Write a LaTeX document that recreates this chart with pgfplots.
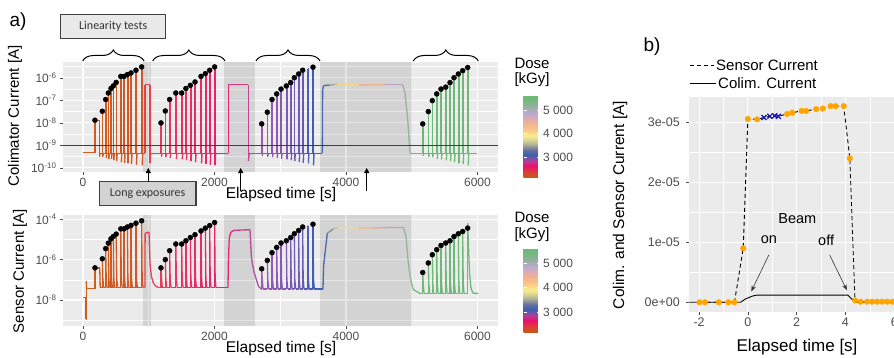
\documentclass[border=0pt]{standalone}
\usepackage{pgfplots}
\pgfplotsset{compat=1.18}
\usepackage{fontspec}
\setmainfont{Liberation Sans}
\newfontfamily\carlito{Carlito}
\usetikzlibrary{arrows.meta,decorations.pathreplacing}
\definecolor{panelbg}{HTML}{EBEBEB}
\definecolor{tickgray}{HTML}{4D4D4D}
\definecolor{boxA}{HTML}{E9E9E9}
\definecolor{boxB}{HTML}{D3D3D3}
\definecolor{dorange}{HTML}{FFA500}
\definecolor{dblue}{HTML}{1010C0}
\newcommand\fs[1]{\fontsize{#1}{#1}\selectfont}
\pgfplotsset{
 colormap={timemap}{rgb255(0pt)=(205,95,25); rgb255(90pt)=(212,85,40); rgb255(96pt)=(225,65,75); rgb255(110pt)=(232,62,90); rgb255(200pt)=(232,35,105); rgb255(225pt)=(230,40,115); rgb255(255pt)=(185,75,155); rgb255(275pt)=(155,90,175); rgb255(330pt)=(110,90,180); rgb255(350pt)=(60,95,180); rgb255(370pt)=(70,105,175); rgb255(385pt)=(200,200,140); rgb255(395pt)=(245,230,125); rgb255(425pt)=(248,190,130); rgb255(455pt)=(228,160,150); rgb255(475pt)=(185,160,205); rgb255(495pt)=(150,180,150); rgb255(510pt)=(110,185,120); rgb255(610pt)=(110,185,120)},
 colormap={dosemap}{rgb255(0pt)=(200,85,25); rgb255(13pt)=(212,75,40); rgb255(28pt)=(228,50,70); rgb255(48pt)=(232,15,110); rgb255(63pt)=(200,50,140); rgb255(78pt)=(130,80,165); rgb255(93pt)=(55,95,175); rgb255(113pt)=(100,110,160); rgb255(143pt)=(190,190,150); rgb255(173pt)=(248,238,140); rgb255(203pt)=(250,195,135); rgb255(233pt)=(240,175,150); rgb255(268pt)=(190,170,210); rgb255(298pt)=(150,175,160); rgb255(323pt)=(115,185,125); rgb255(347pt)=(110,185,120)},
 gg/.style={scale only axis, anchor=south west,
  axis background/.style={fill=panelbg},
  grid=both, major grid style={white, line width=1.1pt}, minor grid style={white, line width=0.5pt},
  axis x line*=bottom, axis y line*=left, axis line style={draw=none},
  tick align=outside, major tick length=3pt, minor tick length=0pt,
  tick style={tickgray, line width=0.6pt},
  tick label style={font=\fs{12}, text=tickgray}},
 cbar/.style={hide axis, scale only axis, anchor=south west, width=16pt, xmin=0, xmax=1, ymin=0, ymax=1,
  colormap name=dosemap, point meta min=2170, point meta max=5640, colorbar,
  colorbar style={at={(parent axis.south west)}, anchor=south west, scale only axis, width=16pt, height=#1,
   ytick={3000,4000,5000}, yticklabels={3 000,4 000,5 000}, yticklabel pos=right,
   yticklabel style={font=\fs{12}, text=tickgray},
   axis line style={draw=none}, major tick length=3pt, tick align=inside, ytick pos=both,
   tick style={white, line width=0.6pt}}},
}
\begin{document}
\begin{tikzpicture}[x=1pt,y=1pt]
\useasboundingbox (0,0) rectangle (894,357);

% ---------------- top panel (collimator current)
\begin{axis}[gg, at={(63pt,185pt)}, width=435pt, height=110pt,
 xmin=-304, xmax=6312, ymode=log, ymin=6.6e-11, ymax=5.1e-6,
 xtick={0,2000,4000,6000}, xticklabels={0,2000,4000,6000}, minor xtick={1000,3000,5000},
 ytick={1e-10,1e-9,1e-8,1e-7,1e-6},
 yticklabels={10\textsuperscript{-10},10\textsuperscript{-9},10\textsuperscript{-8},10\textsuperscript{-7},10\textsuperscript{-6}},
 minor ytick={3.16e-10,3.16e-9,3.16e-8,3.16e-7,3.16e-6},
 colormap name=timemap, point meta min=0, point meta max=6100]
\addplot[draw=none, fill=black, fill opacity=0.1, forget plot] coordinates {(917,6.6e-11) (917,5.1e-6) (1029,5.1e-6) (1029,6.6e-11)};
\addplot[draw=none, fill=black, fill opacity=0.1, forget plot] coordinates {(2149,6.6e-11) (2149,5.1e-6) (2621,5.1e-6) (2621,6.6e-11)};
\addplot[draw=none, fill=black, fill opacity=0.1, forget plot] coordinates {(3605,6.6e-11) (3605,5.1e-6) (5000,5.1e-6) (5000,6.6e-11)};
\addplot[mesh, point meta=x, line width=1.3pt] coordinates {
(0,4.7e-10) (182,4.7e-10) (182,1.32e-8) (250,1.32e-8) (250,3.2e-10) (262,4.5e-10)
(294,4.5e-10) (294,3.3e-8) (302,3.3e-8) (302,3.2e-10) (310,4.5e-10)
(345,4.5e-10) (345,1.1e-7) (353,1.1e-7) (353,2.8e-10) (361,4.5e-10)
(385,4.5e-10) (385,2.14e-7) (393,2.14e-7) (393,2.5e-10) (401,4.5e-10)
(426,4.5e-10) (426,3.4e-7) (434,3.4e-7) (434,2.5e-10) (442,4.5e-10)
(461,4.5e-10) (461,4.4e-7) (469,4.4e-7) (469,2.2e-10) (477,4.5e-10)
(505,4.5e-10) (505,6.3e-7) (513,6.3e-7) (513,2.0e-10) (521,4.5e-10)
(575,4.5e-10) (575,1.17e-6) (583,1.17e-6) (583,1.8e-10) (591,4.5e-10)
(625,4.5e-10) (625,1.17e-6) (633,1.17e-6) (633,1.7e-10) (641,4.5e-10)
(675,4.5e-10) (675,1.41e-6) (683,1.41e-6) (683,1.6e-10) (691,4.5e-10)
(730,4.5e-10) (730,1.66e-6) (738,1.66e-6) (738,1.5e-10) (746,4.5e-10)
(806,4.5e-10) (806,2.19e-6) (814,2.19e-6) (814,1.4e-10) (822,4.5e-10)
(892,4.5e-10) (892,3.09e-6) (900,3.09e-6) (900,1.3e-10) (908,4.5e-10)
(943,4.5e-10) (943,5e-7) (1019,5e-7) (1019,1.6e-10) (1030,4.5e-10)
(1186,4.5e-10) (1186,1.0e-8) (1194,1.0e-8) (1194,3.2e-10) (1202,4.5e-10)
(1252,4.5e-10) (1252,3.4e-8) (1260,3.4e-8) (1260,3.0e-10) (1268,4.5e-10)
(1318,4.5e-10) (1318,1.1e-7) (1326,1.1e-7) (1326,2.8e-10) (1334,4.5e-10)
(1412,4.5e-10) (1412,2.14e-7) (1420,2.14e-7) (1420,2.5e-10) (1428,4.5e-10)
(1501,4.5e-10) (1501,2.14e-7) (1509,2.14e-7) (1509,2.4e-10) (1517,4.5e-10)
(1565,4.5e-10) (1565,3.4e-7) (1573,3.4e-7) (1573,2.2e-10) (1581,4.5e-10)
(1633,4.5e-10) (1633,4.7e-7) (1641,4.7e-7) (1641,2.0e-10) (1649,4.5e-10)
(1704,4.5e-10) (1704,6.6e-7) (1712,6.6e-7) (1712,1.8e-10) (1720,4.5e-10)
(1795,4.5e-10) (1795,1.17e-6) (1803,1.17e-6) (1803,1.6e-10) (1811,4.5e-10)
(1861,4.5e-10) (1861,1.55e-6) (1869,1.55e-6) (1869,1.5e-10) (1877,4.5e-10)
(1927,4.5e-10) (1927,2.19e-6) (1935,2.19e-6) (1935,1.4e-10) (1943,4.5e-10)
(2002,4.5e-10) (2002,3.09e-6) (2010,3.09e-6) (2010,1.3e-10) (2018,4.5e-10)
(2210,4.5e-10) (2210,5e-7) (2515,5e-7) (2515,2e-10) (2530,4.5e-10)
(2718,4.5e-10) (2718,9.1e-9) (2726,9.1e-9) (2726,3.5e-10) (2734,4.5e-10)
(2803,4.5e-10) (2803,3.0e-8) (2811,3.0e-8) (2811,3.2e-10) (2819,4.5e-10)
(2875,4.5e-10) (2875,1.1e-7) (2883,1.1e-7) (2883,3.0e-10) (2891,4.5e-10)
(2946,4.5e-10) (2946,1.95e-7) (2954,1.95e-7) (2954,2.8e-10) (2962,4.5e-10)
(3012,4.5e-10) (3012,3.2e-7) (3020,3.2e-7) (3020,2.6e-10) (3028,4.5e-10)
(3093,4.5e-10) (3093,4.4e-7) (3101,4.4e-7) (3101,2.4e-10) (3109,4.5e-10)
(3159,4.5e-10) (3159,6.2e-7) (3167,6.2e-7) (3167,2.2e-10) (3175,4.5e-10)
(3214,4.5e-10) (3214,1.02e-6) (3222,1.02e-6) (3222,2.0e-10) (3230,4.5e-10)
(3280,4.5e-10) (3280,1.5e-6) (3288,1.5e-6) (3288,1.8e-10) (3296,4.5e-10)
(3341,4.5e-10) (3341,2.2e-6) (3349,2.2e-6) (3349,1.7e-10) (3357,4.5e-10)
(3420,4.5e-10) (3420,2.6e-6) (3428,2.6e-6) (3428,1.6e-10) (3436,4.5e-10)
(3498,4.5e-10) (3498,3.0e-6) (3506,3.0e-6) (3506,1.3e-10) (3514,4.5e-10)
(3640,4.5e-10) (3645,3e-7) (3660,4.6e-7) (3750,4.8e-7) (3830,5.1e-7) (3880,5.4e-7) (3940,5.1e-7) (4200,4.9e-7) (4600,5.0e-7) (4860,5.0e-7) (4898,2.1e-7) (4939,1.35e-8) (4974,4.5e-10)
(5167,4.5e-10) (5167,9.1e-9) (5175,9.1e-9) (5175,3.5e-10) (5183,4.5e-10)
(5252,4.5e-10) (5252,3.2e-8) (5260,3.2e-8) (5260,3.2e-10) (5268,4.5e-10)
(5313,4.5e-10) (5313,9.8e-8) (5321,9.8e-8) (5321,3.0e-10) (5329,4.5e-10)
(5380,4.5e-10) (5380,1.95e-7) (5388,1.95e-7) (5388,2.6e-10) (5396,4.5e-10)
(5445,4.5e-10) (5445,3.2e-7) (5453,3.2e-7) (5453,2.4e-10) (5461,4.5e-10)
(5517,4.5e-10) (5517,3.9e-7) (5525,3.9e-7) (5525,2.2e-10) (5533,4.5e-10)
(5582,4.5e-10) (5582,6.2e-7) (5590,6.2e-7) (5590,2.0e-10) (5598,4.5e-10)
(5643,4.5e-10) (5643,1.02e-6) (5651,1.02e-6) (5651,1.8e-10) (5659,4.5e-10)
(5709,4.5e-10) (5709,1.5e-6) (5717,1.5e-6) (5717,1.6e-10) (5725,4.5e-10)
(5775,4.5e-10) (5775,2.1e-6) (5783,2.1e-6) (5783,1.5e-10) (5791,4.5e-10)
(5851,4.5e-10) (5851,2.9e-6) (5859,2.9e-6) (5859,1.3e-10) (5867,4.5e-10)
(5993,4.5e-10)};
\addplot[color=black!75, line width=1pt] coordinates {(-304,1e-9) (6312,1e-9)};
\addplot[only marks, mark=*, mark size=2.5pt, black] coordinates {
(182,1.32e-8) (294,3.3e-8) (345,1.1e-7) (385,2.14e-7) (426,3.4e-7) (461,4.4e-7) (505,6.3e-7) (575,1.17e-6) (625,1.17e-6) (675,1.41e-6) (730,1.66e-6) (806,2.19e-6) (892,3.09e-6)
(1186,1.0e-8) (1252,3.4e-8) (1318,1.1e-7) (1412,2.14e-7) (1501,2.14e-7) (1565,3.4e-7) (1633,4.7e-7) (1704,6.6e-7) (1795,1.17e-6) (1861,1.55e-6) (1927,2.19e-6) (2002,3.09e-6)
(2718,9.1e-9) (2803,3.0e-8) (2875,1.1e-7) (2946,1.95e-7) (3012,3.2e-7) (3093,4.4e-7) (3159,6.2e-7) (3214,1.02e-6) (3280,1.5e-6) (3341,2.2e-6) (3498,3.0e-6)
(5167,9.1e-9) (5252,3.2e-8) (5313,9.8e-8) (5380,1.95e-7) (5445,3.2e-7) (5517,3.9e-7) (5582,6.2e-7) (5643,1.02e-6) (5709,1.5e-6) (5775,2.1e-6) (5851,2.9e-6)};
\end{axis}

% ---------------- bottom panel (sensor current)
\begin{axis}[gg, at={(63pt,31pt)}, width=435pt, height=111pt,
 xmin=-304, xmax=6312, ymode=log, ymin=5.2e-10, ymax=1.6e-4,
 xtick={0,2000,4000,6000}, xticklabels={0,2000,4000,6000}, minor xtick={1000,3000,5000},
 ytick={1e-8,1e-6,1e-4},
 yticklabels={10\textsuperscript{-8},10\textsuperscript{-6},10\textsuperscript{-4}},
 minor ytick={1e-9,1e-7,1e-5},
 colormap name=timemap, point meta min=0, point meta max=6100]
\addplot[draw=none, fill=black, fill opacity=0.1, forget plot] coordinates {(917,5.2e-10) (917,1.6e-4) (1029,1.6e-4) (1029,5.2e-10)};
\addplot[draw=none, fill=black, fill opacity=0.1, forget plot] coordinates {(2149,5.2e-10) (2149,1.6e-4) (2621,1.6e-4) (2621,5.2e-10)};
\addplot[draw=none, fill=black, fill opacity=0.1, forget plot] coordinates {(3605,5.2e-10) (3605,1.6e-4) (5000,1.6e-4) (5000,5.2e-10)};
\addplot[mesh, point meta=x, line width=1.3pt] coordinates {
(0,1.3e-8) (45,1.3e-8) (45,1.1e-9) (50,1.1e-9) (50,8.5e-8) (56,3.7e-8) (182,3.7e-8) (182,3.9e-7) (255,3.9e-7) (262,4.1e-8)
(294,4.1e-8) (294,1.1e-6) (302,1.2e-7) (314,4.1e-8)
(345,4.1e-8) (345,3.47e-6) (353,1.2e-7) (365,4.1e-8)
(385,4.1e-8) (385,6.5e-6) (393,1.2e-7) (405,4.1e-8)
(426,4.1e-8) (426,1.07e-5) (434,1.2e-7) (446,4.1e-8)
(461,4.1e-8) (461,1.38e-5) (469,1.2e-7) (481,4.1e-8)
(505,4.1e-8) (505,1.82e-5) (513,1.2e-7) (525,4.1e-8)
(575,4.1e-8) (575,3.3e-5) (583,1.2e-7) (595,4.1e-8)
(625,4.1e-8) (625,3.3e-5) (633,1.2e-7) (645,4.1e-8)
(675,4.1e-8) (675,4.1e-5) (683,1.2e-7) (695,4.1e-8)
(730,4.1e-8) (730,4.9e-5) (738,1.2e-7) (750,4.1e-8)
(806,4.1e-8) (806,6.3e-5) (814,1.2e-7) (826,4.1e-8)
(892,4.1e-8) (892,8.3e-5) (900,1.2e-7) (912,4.1e-8)
(943,4.1e-8) (945,2.0e-5) (1004,2.3e-5) (1010,5e-6) (1020,6e-7) (1040,1.5e-7) (1070,7e-8) (1100,5e-8) (1150,4.1e-8)
(1186,4.1e-8) (1186,3.9e-7) (1194,1.2e-7) (1206,4.1e-8)
(1252,4.1e-8) (1252,1.0e-6) (1260,1.2e-7) (1272,4.1e-8)
(1318,4.1e-8) (1318,2.75e-6) (1326,1.2e-7) (1338,4.1e-8)
(1412,4.1e-8) (1412,5.9e-6) (1420,1.2e-7) (1432,4.1e-8)
(1501,4.1e-8) (1501,5.9e-6) (1509,1.2e-7) (1521,4.1e-8)
(1565,4.1e-8) (1565,8.5e-6) (1573,1.2e-7) (1585,4.1e-8)
(1633,4.1e-8) (1633,1.23e-5) (1641,1.2e-7) (1653,4.1e-8)
(1704,4.1e-8) (1704,1.7e-5) (1712,1.2e-7) (1724,4.1e-8)
(1795,4.1e-8) (1795,2.6e-5) (1803,1.2e-7) (1815,4.1e-8)
(1861,4.1e-8) (1861,3.6e-5) (1869,1.2e-7) (1881,4.1e-8)
(1927,4.1e-8) (1927,4.8e-5) (1935,1.2e-7) (1947,4.1e-8)
(2002,4.1e-8) (2002,6.8e-5) (2010,1.2e-7) (2022,4.1e-8)
(2205,4.1e-8) (2212,1e-6) (2225,1.2e-5) (2250,2.3e-5) (2300,2.8e-5) (2540,3.0e-5) (2555,3e-6) (2565,1e-6) (2600,2.5e-7) (2667,5e-8) (2710,3.5e-8)
(2718,3.5e-8) (2718,3.5e-7) (2726,1.05e-7) (2738,3.5e-8)
(2803,3.5e-8) (2803,9.1e-7) (2811,1.05e-7) (2823,3.5e-8)
(2875,3.5e-8) (2875,2.2e-6) (2883,1.05e-7) (2895,3.5e-8)
(2946,3.5e-8) (2946,4.0e-6) (2954,1.05e-7) (2966,3.5e-8)
(3012,3.5e-8) (3012,6.6e-6) (3020,1.05e-7) (3032,3.5e-8)
(3093,3.5e-8) (3093,8.5e-6) (3101,1.05e-7) (3113,3.5e-8)
(3159,3.5e-8) (3159,1.23e-5) (3167,1.05e-7) (3179,3.5e-8)
(3214,3.5e-8) (3214,1.9e-5) (3222,1.05e-7) (3234,3.5e-8)
(3280,3.5e-8) (3280,2.75e-5) (3288,1.05e-7) (3300,3.5e-8)
(3341,3.5e-8) (3341,4.1e-5) (3349,1.05e-7) (3361,3.5e-8)
(3420,3.5e-8) (3420,4.8e-5) (3428,1.05e-7) (3440,3.5e-8)
(3498,3.5e-8) (3498,5.6e-5) (3506,1.05e-7) (3518,3.5e-8)
(3650,3.5e-8) (3660,5e-7) (3681,2.1e-6) (3716,2.0e-5) (3808,3.3e-5) (3884,3.9e-5) (4200,3.7e-5) (4400,3.6e-5) (4600,3.8e-5) (4872,3.9e-5) (4913,1.38e-5) (4948,6.8e-7) (4984,1.0e-7) (5024,3.3e-8) (5126,2.1e-8)
(5167,2.1e-8) (5167,2.3e-7) (5175,6.3e-8) (5187,2.1e-8)
(5252,2.1e-8) (5252,6.8e-7) (5260,6.3e-8) (5272,2.1e-8)
(5313,2.1e-8) (5313,1.74e-6) (5321,6.3e-8) (5333,2.1e-8)
(5380,2.1e-8) (5380,3.1e-6) (5388,6.3e-8) (5400,2.1e-8)
(5445,2.1e-8) (5445,5.0e-6) (5453,6.3e-8) (5465,2.1e-8)
(5517,2.1e-8) (5517,6.6e-6) (5525,6.3e-8) (5537,2.1e-8)
(5582,2.1e-8) (5582,8.5e-6) (5590,6.3e-8) (5602,2.1e-8)
(5643,2.1e-8) (5643,1.38e-5) (5651,6.3e-8) (5663,2.1e-8)
(5709,2.1e-8) (5709,1.9e-5) (5717,6.3e-8) (5729,2.1e-8)
(5775,2.1e-8) (5775,2.45e-5) (5783,6.3e-8) (5795,2.1e-8)
(5851,2.1e-8) (5851,6.3e-5) (5865,3e-6) (5880,2e-7) (5900,4e-8) (5930,2.2e-8) (6013,2.1e-8)};
\addplot[only marks, mark=*, mark size=2.5pt, black] coordinates {
(182,3.9e-7) (294,1.1e-6) (345,3.47e-6) (385,6.5e-6) (426,1.07e-5) (461,1.38e-5) (505,1.82e-5) (575,3.3e-5) (625,3.3e-5) (675,4.1e-5) (730,4.9e-5) (806,6.3e-5) (892,8.3e-5)
(1186,3.9e-7) (1252,1.0e-6) (1318,2.75e-6) (1412,5.9e-6) (1501,5.9e-6) (1565,8.5e-6) (1633,1.23e-5) (1704,1.7e-5) (1795,2.6e-5) (1861,3.6e-5) (1927,4.8e-5) (2002,6.8e-5)
(2718,3.5e-7) (2803,9.1e-7) (2875,2.2e-6) (2946,4.0e-6) (3012,6.6e-6) (3093,8.5e-6) (3159,1.23e-5) (3214,1.9e-5) (3280,2.75e-5) (3341,4.1e-5) (3498,5.6e-5)
(5167,2.3e-7) (5252,6.8e-7) (5313,1.74e-6) (5380,3.1e-6) (5445,5.0e-6) (5517,6.6e-6) (5582,8.5e-6) (5643,1.38e-5) (5709,1.9e-5) (5775,2.45e-5) (5851,3.6e-5)};
\end{axis}

% ---------------- colorbars
\begin{axis}[cbar=82pt, at={(515pt,180pt)}, height=82pt]
\addplot[draw=none, forget plot] coordinates {(0,0)};
\end{axis}
\begin{axis}[cbar=84pt, at={(515pt,25pt)}, height=84pt]
\addplot[draw=none, forget plot] coordinates {(0,0)};
\end{axis}

% ---------------- panel b
\begin{axis}[gg, at={(689.3pt,45.3pt)}, width=214.7pt, height=215pt,
 xmin=-2.4, xmax=6.4, ymin=-1.57e-6, ymax=3.427e-5,
 xtick={-2,0,2,4,6}, xticklabels={-2,0,2,4,6}, minor xtick={-1,1,3,5},
 ytick={0,1e-5,2e-5,3e-5}, yticklabels={0e+00,1e-05,2e-05,3e-05},
 minor ytick={5e-6,1.5e-5,2.5e-5}, scaled y ticks=false,
 tick label style={font=\fs{12.5}, text=tickgray},
 yticklabel style={xshift=-3pt}]
\addplot[black, line width=0.9pt] coordinates {(-2.4,0) (-0.3,0) (-0.1,5.5e-7) (0.2,1.05e-6) (0.38,1.2e-6) (4.1,1.2e-6) (4.2,8e-7) (4.4,0) (6.4,0)};
\addplot[black, line width=0.9pt, dash pattern=on 4pt off 3pt] coordinates {(-1.98,0) (-1.76,0) (-1.19,0) (-0.80,0) (-0.55,0) (-0.19,0.9e-5) (0,3.056e-5) (0.38,3.05e-5) (0.66,3.08e-5) (0.9,3.1e-5) (1.1,3.11e-5) (1.25,3.1e-5) (1.61,3.14e-5) (1.82,3.16e-5) (2.2,3.19e-5) (2.39,3.19e-5) (2.8,3.22e-5) (3.07,3.23e-5) (3.39,3.27e-5) (3.6,3.27e-5) (3.93,3.27e-5) (4.18,2.4e-5) (4.39,0.03e-5) (4.62,0.01e-5) (4.89,0.01e-5) (5.09,0.01e-5) (5.3,0.01e-5) (5.5,0.01e-5) (5.71,0.01e-5) (5.92,0.01e-5) (6.13,0.01e-5) (6.34,0.01e-5)};
\addplot[only marks, mark=*, mark size=2.8pt, dorange] coordinates {(-1.98,0) (-1.76,0) (-1.19,0) (-0.80,0) (-0.55,0) (-0.19,0.9e-5) (0,3.056e-5) (0.38,3.05e-5) (1.61,3.14e-5) (1.82,3.16e-5) (2.2,3.19e-5) (2.39,3.19e-5) (2.8,3.22e-5) (3.07,3.23e-5) (3.39,3.27e-5) (3.6,3.27e-5) (3.93,3.27e-5) (4.18,2.4e-5) (4.39,0.03e-5) (4.62,0.01e-5) (4.89,0.01e-5) (5.09,0.01e-5) (5.3,0.01e-5) (5.5,0.01e-5) (5.71,0.01e-5) (5.92,0.01e-5) (6.13,0.01e-5) (6.34,0.01e-5)};
\addplot[only marks, mark=x, mark size=3.5pt, dblue, line width=1.2pt] coordinates {(0.66,3.08e-5) (0.9,3.1e-5) (1.1,3.11e-5) (1.25,3.1e-5)};
\node[font=\fs{14.5}] at (axis cs:2.03,1.4e-5) {Beam};
\node[font=\fs{14.5}] at (axis cs:0.86,1.04e-5) {on};
\node[font=\fs{14.5}] at (axis cs:3.21,1.04e-5) {off};
\draw[black!80, line width=0.6pt, -{Stealth[length=6pt,width=4.5pt]}] (axis cs:0.86,0.79e-5) -- (axis cs:0.14,0.18e-5);
\draw[black!80, line width=0.6pt, -{Stealth[length=6pt,width=4.5pt]}] (axis cs:3.35,0.79e-5) -- (axis cs:4.06,0.2e-5);
\end{axis}

% ---------------- annotations panel a
\node[font=\fs{19}] at (18,335) {a)};
\node[rotate=90, font=\fs{15}] at (15,241) {Colimator Current [A]};
\node[rotate=90, font=\fs{15}] at (20,86) {Sensor Current [A]};
\node[font=\fs{15.5}] at (281,163) {Elapsed time [s]};
\node[font=\fs{15.5}] at (281,9) {Elapsed time [s]};
\node[draw=black!75, line width=1.2pt, fill=boxA, minimum width=105pt, minimum height=24pt, font=\carlito\fs{12}, text=black!80] at (113.2,330.8) {Linearity tests};
\node[draw=black!75, line width=1.2pt, fill=boxB, minimum width=96.7pt, minimum height=24pt, font=\carlito\fs{12}, text=black!80] at (147.6,163.3) {Long exposures};
\draw[line width=0.8pt, -{Triangle[length=5pt,width=5pt]}] (148.3,175.3) -- (148.3,189);
\draw[line width=0.8pt, -{Triangle[length=5pt,width=5pt]}] (240.7,166) -- (240.7,189);
\draw[line width=0.8pt, -{Triangle[length=5pt,width=5pt]}] (366.7,166) -- (366.7,189);
\draw[line width=1pt, decorate, decoration={brace, amplitude=11pt}] (82.7,296) -- (144,296);
\draw[line width=1pt, decorate, decoration={brace, amplitude=11pt}] (152.7,296) -- (225,296);
\draw[line width=1pt, decorate, decoration={brace, amplitude=11pt}] (256,296) -- (320,296);
\draw[line width=1pt, decorate, decoration={brace, amplitude=11pt}] (413.3,296) -- (478.3,296);
\node[anchor=west, font=\fs{15}] at (511,294) {Dose};
\node[anchor=west, font=\fs{15}] at (511,277) {[kGy]};
\node[anchor=west, font=\fs{15}] at (511,140) {Dose};
\node[anchor=west, font=\fs{15}] at (511,122) {[kGy]};

% ---------------- annotations panel b
\node[font=\fs{19}] at (652,310) {b)};
\node[rotate=90, font=\fs{15.5}] at (620,152) {Colim. and Sensor Current [A]};
\node[font=\fs{17}] at (797,10) {Elapsed time [s]};
\draw[line width=0.9pt, dash pattern=on 4pt off 3pt] (690,291.3) -- (714,291.3);
\node[anchor=west, font=\fs{15}, inner sep=1pt] at (715,291.3) {Sensor Current};
\draw[line width=0.9pt] (690,273.7) -- (716,273.7);
\node[anchor=west, font=\fs{15}, inner sep=1pt] at (717,273.7) {Colim. Current};
\end{tikzpicture}
\end{document}
